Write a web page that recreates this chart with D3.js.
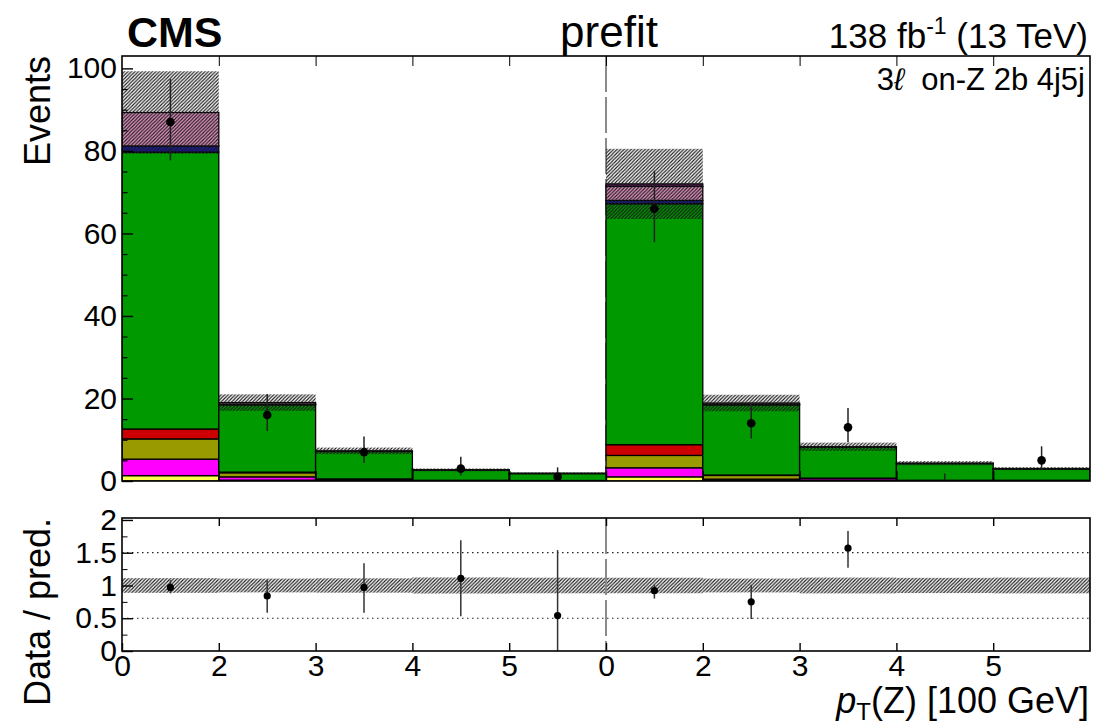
<!DOCTYPE html>
<html>
<head>
<meta charset="utf-8">
<script src="https://cdn.jsdelivr.net/npm/d3@7"></script>
<style>
  body { margin: 0; background: #fff; }
  svg { display: block; }
  text { font-family: "Liberation Sans", Arial, Helvetica, sans-serif; fill: #000; }
</style>
</head>
<body>
<svg id="chart" width="1098" height="727"></svg>
<script>
// Bin-edge labels for the two concatenated pT(Z) distributions
const binEdgeLabels = ["0", "2", "3", "4", "5", "0", "2", "3", "4", "5"];
const nBins = 10;

// Stacked background processes (bottom to top), events per bin
const processNames = ["yellow", "magenta", "olive", "red", "green", "blue", "pink", "purple"];
const yellowVals  = [1.3, 0.2, 0.05, 0.02, 0.02, 1.0, 0.15, 0.05, 0.02, 0.02];
const magentaVals = [4.0, 0.8, 0.2, 0.05, 0.03, 2.2, 0.3, 0.5, 0.1, 0.1];
const oliveVals   = [4.9, 1.0, 0.2, 0.08, 0.05, 3.0, 0.9, 0.1, 0.05, 0.05];
const redVals     = [2.4, 0.15, 0.05, 0.02, 0.01, 2.6, 0.1, 0.05, 0.01, 0.01];
const greenVals   = [67.1, 16.3, 6.65, 2.48, 1.70, 58.4, 17.0, 7.5, 4.05, 2.75];
const blueVals    = [1.5, 0.15, 0.05, 0.02, 0.01, 0.8, 0.1, 0.03, 0.02, 0.02];
const pinkVals    = [8.1, 0.4, 0.1, 0.03, 0.03, 3.4, 0.35, 0.07, 0.05, 0.05];
const purpleVals  = [0, 0, 0, 0, 0, 0.6, 0, 0, 0, 0];

const processColors = {
  yellow: "#ffff4d", magenta: "#ff00ff", olive: "#999900", red: "#cc0000",
  green: "#009900", blue: "#1a1aa8", pink: "#e896c6", purple: "#7a1a7a"
};

// Total-prediction uncertainty (+/-), events
const predUnc = [10.0, 2.0, 0.8, 0.33, 0.22, 8.5, 2.0, 1.0, 0.5, 0.36];

// Observed data and asymmetric errors
const dataCounts  = [87, 16, 7, 3, 1, 66, 14, 13, 0, 5];
const dataErrDown = [9.3, 3.9, 2.6, 1.6, 0.8, 8.1, 3.7, 3.6, 0, 2.2];
const dataErrUp   = [10.4, 5.1, 3.8, 2.9, 2.3, 9.2, 4.8, 4.7, 1.84, 3.4];

// Data / prediction points shown in the lower panel
const ratioVals = [0.97, 0.84, 0.97, 1.11, 0.54, 0.92, 0.75, 1.57, null, null];
const ratioLow  = [0.88, 0.585, 0.585, 0.53, 0.0, 0.80, 0.49, 1.27, null, null];
const ratioHigh = [1.08, 1.08, 1.34, 1.69, 1.54, 1.01, 1.01, 1.83, null, null];

const mainYTicks = [0, 20, 40, 60, 80, 100];
const ratioYTicks = [0, 0.5, 1, 1.5, 2];
const ratioYTickLabels = ["0", "0.5", "1", "1.5", "2"];

// ---------------------------------------------------------------
const svg = d3.select("#chart");
const frame = { left: 122, right: 1090 };
const mainP = { top: 56, bottom: 481 };
const ratioP = { top: 518, bottom: 651 };

const x = d3.scaleLinear().domain([0, nBins]).range([frame.left, frame.right]);
const y = d3.scaleLinear().domain([0, 103]).range([mainP.bottom, mainP.top]);
const yr = d3.scaleLinear().domain([0, 2.03]).range([ratioP.bottom, ratioP.top]);

const defs = svg.append("defs");
const hs = 3.5;
const hatch = defs.append("pattern")
  .attr("id", "hatch").attr("patternUnits", "userSpaceOnUse")
  .attr("width", hs).attr("height", hs);
hatch.append("path")
  .attr("d", `M-1,1 L1,-1 M0,${hs} L${hs},0 M${hs - 1},${hs + 1} L${hs + 1},${hs - 1}`)
  .attr("stroke", "#1a1a1a").attr("stroke-width", 1.12);

defs.append("clipPath").attr("id", "clipMain").append("rect")
  .attr("x", frame.left).attr("y", mainP.top)
  .attr("width", frame.right - frame.left).attr("height", mainP.bottom - mainP.top);
defs.append("clipPath").attr("id", "clipRatio").append("rect")
  .attr("x", frame.left).attr("y", ratioP.top)
  .attr("width", frame.right - frame.left).attr("height", ratioP.bottom - ratioP.top);

// table for the stack layout
const valuesByProcess = {
  yellow: yellowVals, magenta: magentaVals, olive: oliveVals, red: redVals,
  green: greenVals, blue: blueVals, pink: pinkVals, purple: purpleVals
};
const rows = d3.range(nBins).map(i => {
  const r = { bin: i };
  processNames.forEach(p => r[p] = valuesByProcess[p][i]);
  return r;
});
const stacked = d3.stack().keys(processNames)(rows);
const totals = rows.map(r => d3.sum(processNames, p => r[p]));

// ---------------- main panel ----------------
const gMain = svg.append("g").attr("clip-path", "url(#clipMain)");

// separator between the two distributions
gMain.append("line")
  .attr("x1", x(5)).attr("x2", x(5))
  .attr("y1", mainP.top).attr("y2", mainP.bottom)
  .attr("stroke", "#8a8a8a").attr("stroke-width", 2)
  .attr("stroke-dasharray", "36,5");

stacked.forEach(layer => {
  gMain.append("g").selectAll("rect")
    .data(layer)
    .join("rect")
    .attr("x", d => x(d.data.bin))
    .attr("width", x(1) - x(0))
    .attr("y", d => y(d[1]))
    .attr("height", d => Math.max(0, y(d[0]) - y(d[1])))
    .attr("fill", processColors[layer.key])
    .attr("stroke", "#000")
    .attr("stroke-width", 1.3);
});

// uncertainty band on total prediction
gMain.append("g").selectAll("rect")
  .data(d3.range(nBins))
  .join("rect")
  .attr("x", i => x(i))
  .attr("width", x(1) - x(0))
  .attr("y", i => y(totals[i] + predUnc[i]))
  .attr("height", i => y(totals[i] - predUnc[i]) - y(totals[i] + predUnc[i]))
  .attr("fill", "url(#hatch)");

// data points (no marker drawn for empty bins)
const gData = gMain.append("g");
d3.range(nBins).forEach(i => {
  const cx = x(i + 0.5);
  gData.append("line")
    .attr("x1", cx).attr("x2", cx)
    .attr("y1", y(dataCounts[i] - dataErrDown[i])).attr("y2", y(dataCounts[i] + dataErrUp[i]))
    .attr("stroke", "#222").attr("stroke-width", 1.5);
  if (dataCounts[i] > 0) {
    gData.append("circle")
      .attr("cx", cx).attr("cy", y(dataCounts[i])).attr("r", 4.3)
      .attr("fill", "#000");
  }
});

// frame and ticks
svg.append("rect")
  .attr("x", frame.left).attr("y", mainP.top)
  .attr("width", frame.right - frame.left).attr("height", mainP.bottom - mainP.top)
  .attr("fill", "none").attr("stroke", "#000").attr("stroke-width", 1.6);

const yAxisMain = d3.axisLeft(y).tickValues(mainYTicks).tickSize(-11).tickPadding(5)
  .tickFormat(d3.format("d"));
const gYm = svg.append("g").attr("transform", `translate(${frame.left},0)`).call(yAxisMain);
gYm.select(".domain").remove();
gYm.selectAll("text").attr("font-size", 30).attr("font-family", "Liberation Sans, Arial, sans-serif");
gYm.selectAll("line").attr("stroke-width", 1.4);
const yMinorMain = d3.axisLeft(y).tickValues(d3.range(0, 101, 5).filter(v => v % 20 !== 0))
  .tickSize(-5.5).tickFormat("");
const gYmm = svg.append("g").attr("transform", `translate(${frame.left},0)`).call(yMinorMain);
gYmm.select(".domain").remove();
gYmm.selectAll("line").attr("stroke-width", 1.2);

const edgeTicks = d3.range(1, nBins);
const xTopMain = d3.axisTop(x).tickValues(edgeTicks).tickSize(-10).tickFormat("");
const gXtm = svg.append("g").attr("transform", `translate(0,${mainP.top})`).call(xTopMain);
gXtm.select(".domain").remove();
const xBotMain = d3.axisBottom(x).tickValues(edgeTicks).tickSize(-10).tickFormat("");
const gXbm = svg.append("g").attr("transform", `translate(0,${mainP.bottom})`).call(xBotMain);
gXbm.select(".domain").remove();
gXbm.selectAll("line").attr("stroke-width", 1.4);

// ---------------- ratio panel ----------------
const gRatio = svg.append("g").attr("clip-path", "url(#clipRatio)");

[0.5, 1.5].forEach(v => {
  gRatio.append("line")
    .attr("x1", frame.left).attr("x2", frame.right)
    .attr("y1", yr(v)).attr("y2", yr(v))
    .attr("stroke", "#222").attr("stroke-width", 1.2)
    .attr("stroke-dasharray", "1.5,3.5");
});

gRatio.append("g").selectAll("rect")
  .data(d3.range(nBins))
  .join("rect")
  .attr("x", i => x(i))
  .attr("width", x(1) - x(0))
  .attr("y", i => yr(1 + predUnc[i] / totals[i]))
  .attr("height", i => yr(1 - predUnc[i] / totals[i]) - yr(1 + predUnc[i] / totals[i]))
  .attr("fill", "url(#hatch)");

gRatio.append("line")
  .attr("x1", x(5)).attr("x2", x(5))
  .attr("y1", ratioP.top).attr("y2", ratioP.bottom)
  .attr("stroke", "#8a8a8a").attr("stroke-width", 2)
  .attr("stroke-dasharray", "36,5");

d3.range(nBins).filter(i => ratioVals[i] !== null).forEach(i => {
  const cx = x(i + 0.5);
  gRatio.append("line")
    .attr("x1", cx).attr("x2", cx)
    .attr("y1", yr(ratioLow[i])).attr("y2", yr(ratioHigh[i]))
    .attr("stroke", "#333").attr("stroke-width", 1.5);
  gRatio.append("circle")
    .attr("cx", cx).attr("cy", yr(ratioVals[i])).attr("r", 3.6)
    .attr("fill", "#000");
});

svg.append("rect")
  .attr("x", frame.left).attr("y", ratioP.top)
  .attr("width", frame.right - frame.left).attr("height", ratioP.bottom - ratioP.top)
  .attr("fill", "none").attr("stroke", "#000").attr("stroke-width", 1.6);

const yAxisRatio = d3.axisLeft(yr).tickValues(ratioYTicks).tickSize(-11).tickPadding(5)
  .tickFormat((d, i) => ratioYTickLabels[i]);
const gYr = svg.append("g").attr("transform", `translate(${frame.left},0)`).call(yAxisRatio);
gYr.select(".domain").remove();
gYr.selectAll("text").attr("font-size", 30).attr("font-family", "Liberation Sans, Arial, sans-serif");
gYr.selectAll("line").attr("stroke-width", 1.4);
const yMinorRatio = d3.axisLeft(yr).tickValues([0.25, 0.75, 1.25, 1.75]).tickSize(-5.5).tickFormat("");
const gYrm = svg.append("g").attr("transform", `translate(${frame.left},0)`).call(yMinorRatio);
gYrm.select(".domain").remove();

const xTopRatio = d3.axisTop(x).tickValues(edgeTicks).tickSize(-8).tickFormat("");
const gXtr = svg.append("g").attr("transform", `translate(0,${ratioP.top})`).call(xTopRatio);
gXtr.select(".domain").remove();
gXtr.selectAll("line").attr("stroke-width", 1.4);

const xBotRatio = d3.axisBottom(x).tickValues(d3.range(0, nBins)).tickSize(-8).tickPadding(4)
  .tickFormat((d, i) => binEdgeLabels[i]);
const gXbr = svg.append("g").attr("transform", `translate(0,${ratioP.bottom})`).call(xBotRatio);
gXbr.select(".domain").remove();
gXbr.selectAll("line").attr("stroke-width", 1.4);
gXbr.selectAll("text").attr("font-size", 30).attr("font-family", "Liberation Sans, Arial, sans-serif");

// ---------------- titles and labels ----------------
svg.append("text").attr("x", 127).attr("y", 47)
  .attr("font-size", 43).attr("font-weight", "bold").text("CMS");

svg.append("text").attr("x", 609).attr("y", 47)
  .attr("text-anchor", "middle").attr("font-size", 44).text("prefit");

const lumi = svg.append("text").attr("x", 1088).attr("y", 48)
  .attr("text-anchor", "end").attr("font-size", 35);
lumi.append("tspan").text("138 fb");
lumi.append("tspan").attr("font-size", 23).attr("dy", -14).text("-1");
lumi.append("tspan").attr("dy", 14).text(" (13 TeV)");

const cat = svg.append("text").attr("x", 1085).attr("y", 90)
  .attr("text-anchor", "end").attr("font-size", 31);
cat.append("tspan").text("3");
cat.append("tspan").attr("font-style", "italic").text("\u2113");
cat.append("tspan").text("\u00a0 on-Z 2b 4j5j");

svg.append("text")
  .attr("transform", `translate(50,${mainP.top}) rotate(-90)`)
  .attr("text-anchor", "end").attr("font-size", 36).text("Events");

svg.append("text")
  .attr("transform", `translate(50,${ratioP.top}) rotate(-90)`)
  .attr("text-anchor", "end").attr("font-size", 36).text("Data / pred.");

const xt = svg.append("text").attr("x", 1089).attr("y", 713)
  .attr("text-anchor", "end").attr("font-size", 36);
xt.append("tspan").attr("font-style", "italic").text("p");
xt.append("tspan").attr("font-size", 24).attr("dy", 7).text("T");
xt.append("tspan").attr("dy", -7).text("(Z) [100 GeV]");
</script>
</body>
</html>
